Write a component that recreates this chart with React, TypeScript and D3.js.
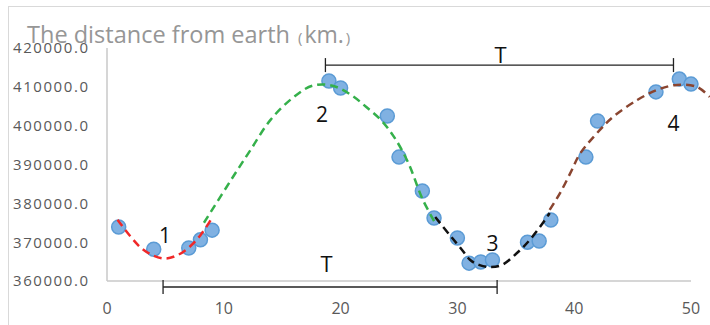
import * as d3 from "d3";

// observed points: day, distance (km)
const pointDays = [1, 4, 7, 8, 9, 19, 20, 24, 25, 27, 28, 30, 31, 32, 33, 36, 37, 38, 41, 42, 47, 49, 50];
const pointDistances = [
  373900, 368200, 368500, 370600, 373100, 411500, 409700, 402500, 391900, 383200, 376200, 371100,
  364600, 364900, 365400, 370000, 370300, 375700, 391900, 401200, 408700, 412000, 410700,
];

// dashed fitted segments
const redCurve: [number, number][] = [
  [0.9, 375800], [2, 371500], [3, 368300], [4, 366500], [5, 365800], [6, 366600], [7, 368600], [8, 371800], [8.9, 375800],
];
const greenCurve: [number, number][] = [
  [8.3, 375000], [11, 387800], [12.3, 393800], [14, 401500], [16, 407400], [17.6, 410300], [19.3, 410300],
  [20.9, 407900], [22.2, 404800], [23.5, 401300], [24.6, 397000], [25.8, 390400], [27, 381200], [28.1, 374900],
];
const blackCurve: [number, number][] = [
  [28.1, 376500], [29.3, 372000], [30.4, 368000], [31.1, 365400], [31.9, 364100], [32.8, 363600], [33.8, 364100],
  [35.1, 367200], [36.2, 370600], [37.5, 375700], [37.9, 377500],
];
const brownCurve: [number, number][] = [
  [37.9, 378300], [38.8, 382700], [39.8, 388600], [40.5, 392800], [42.2, 398900], [43.3, 402200], [45.4, 406600],
  [47.1, 409200], [48.8, 410500], [50.5, 410000], [51.6, 407400],
];

const curveColors = ["#f02828", "#35b04b", "#111111", "#8a4530"];
const yTicks = [360000, 370000, 380000, 390000, 400000, 410000, 420000];
const xTicks = [0, 10, 20, 30, 40, 50];

// period brackets
const brackets = [
  { x0: 4.8, x1: 33.4, y: 358450, labelX: 18.8, labelY: 362200 },
  { x0: 18.7, x1: 48.5, y: 415600, labelX: 33.7, labelY: 416100 },
];
const extremaLabels = [
  { text: "1", x: 4.97, y: 369800 },
  { text: "2", x: 18.4, y: 400950 },
  { text: "3", x: 33.0, y: 367700 },
  { text: "4", x: 48.5, y: 398600 },
];

export default function App() {
  const x = d3.scaleLinear().domain([0, 50]).range([107, 691]);
  const y = d3.scaleLinear().domain([360000, 420000]).range([281, 48]);
  const line = d3
    .line<[number, number]>()
    .x((d) => x(d[0]))
    .y((d) => y(d[1]))
    .curve(d3.curveCatmullRom);

  const font = "'Open Sans', sans-serif";
  const curves = [redCurve, greenCurve, blackCurve, brownCurve];

  return (
    <svg
      width={710}
      height={325}
      style={{ position: "absolute", left: 0, top: 0, background: "#fff" }}
      fontFamily={font}
    >
      <rect x={8.5} y={6.5} width={720} height={340} fill="#fff" stroke="#d9d9d9" />

      <text x={27} y={43} fill="#969696" fontSize={23}>
        <tspan textLength={263} lengthAdjust="spacingAndGlyphs">The distance from earth</tspan>
        <tspan dx={8} fontSize={15}>(</tspan>
        <tspan dx={2}>km.</tspan>
        <tspan dx={2} fontSize={15}>)</tspan>
      </text>

      {/* axes */}
      <line x1={x(0)} x2={x(0)} y1={y(420000)} y2={y(360000)} stroke="#c8c8c8" strokeWidth={1.5} />
      <line x1={x(0)} x2={x(50)} y1={y(360000)} y2={y(360000)} stroke="#c8c8c8" strokeWidth={1.5} />
      {yTicks.map((t) => (
        <text
          key={t}
          x={88}
          y={y(t)}
          dy="0.36em"
          textAnchor="end"
          fontSize={15}
          fill="#595959"
          textLength={75}
          lengthAdjust="spacing"
        >
          {d3.format(".1f")(t)}
        </text>
      ))}
      {xTicks.map((t) => (
        <text key={t} x={x(t)} y={308} dy="0.36em" textAnchor="middle" fontSize={16} fill="#595959">
          {t}
        </text>
      ))}

      {/* points */}
      {pointDays.map((d, i) => (
        <circle
          key={d}
          cx={x(d)}
          cy={y(pointDistances[i])}
          r={7}
          fill="#80b1e2"
          stroke="#5b9bd5"
          strokeWidth={1.5}
        />
      ))}

      {/* fitted dashed curves */}
      {curves.map((c, i) => (
        <path
          key={i}
          d={line(c) ?? ""}
          fill="none"
          stroke={curveColors[i]}
          strokeWidth={2.5}
          strokeDasharray="8 5"
        />
      ))}

      {/* T brackets */}
      {brackets.map((b, i) => (
        <g key={i} stroke="#222" strokeWidth={1.3}>
          <line x1={x(b.x0)} x2={x(b.x1)} y1={y(b.y)} y2={y(b.y)} />
          <line x1={x(b.x0)} x2={x(b.x0)} y1={y(b.y) - 7} y2={y(b.y) + 7} />
          <line x1={x(b.x1)} x2={x(b.x1)} y1={y(b.y) - 7} y2={y(b.y) + 7} />
          <text x={x(b.labelX)} y={y(b.labelY)} textAnchor="middle" fontSize={22} fill="#111" stroke="none">
            T
          </text>
        </g>
      ))}

      {extremaLabels.map((l) => (
        <text key={l.text} x={x(l.x)} y={y(l.y)} textAnchor="middle" fontSize={21} fill="#111">
          {l.text}
        </text>
      ))}
    </svg>
  );
}
